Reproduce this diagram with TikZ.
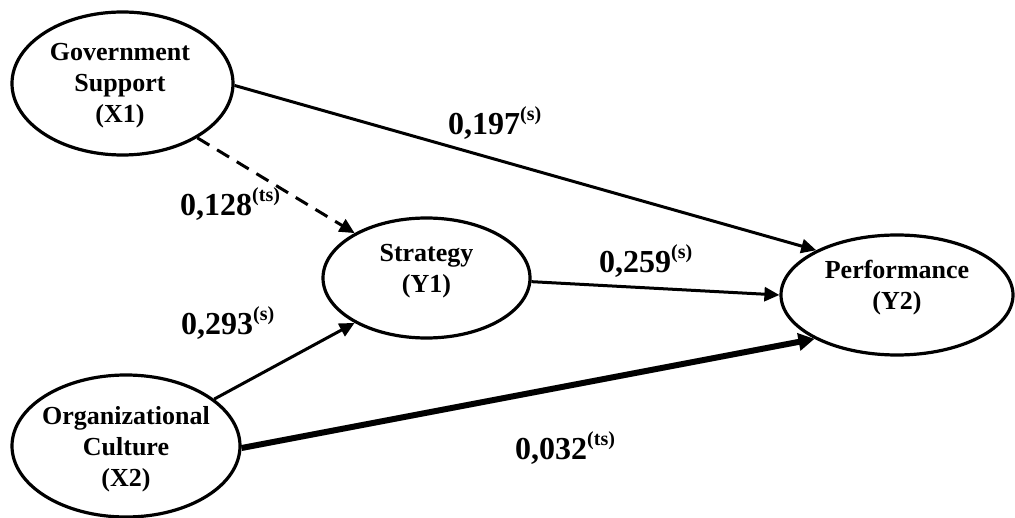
\documentclass[tikz,border=0pt]{standalone}
\usepackage{fontspec}
\setmainfont{Liberation Serif}
\usetikzlibrary{shapes.geometric,arrows.meta}
\tikzset{
  latent/.style={draw, ellipse, line width=3.2pt, inner sep=0pt},
  nametxt/.style={align=center, font=\fontsize{26}{31}\selectfont\bfseries, inner sep=0pt},
  coef/.style={anchor=base west, inner sep=0pt, font=\fontsize{32}{38}\selectfont\bfseries},
  arr/.style={line width=3pt, -{Triangle[length=15pt,width=14pt]}},
  thickarr/.style={line width=6pt, -{Triangle[length=16pt,width=17pt]}},
  dsh/.style={dash pattern=on 14pt off 9pt}
}
\newcommand{\supl}[1]{\raisebox{14pt}{\fontsize{20}{24}\selectfont #1}}
\begin{document}
\begin{tikzpicture}[x=1pt,y=-1pt]
\useasboundingbox (0,0) rectangle (1015,518);
% latent variables
\node[latent, minimum width=221pt, minimum height=143pt] (x1) at (122.5,83.5) {};
\node[latent, minimum width=228pt, minimum height=142pt] (x2) at (126,446) {};
\node[latent, minimum width=207pt, minimum height=120pt] (y1) at (426.5,278) {};
\node[latent, minimum width=232pt, minimum height=120pt] (y2) at (897,295) {};
% names
\node[nametxt] (x1t) at (120,86) {Government\\Support\\(X1)};
\node[nametxt] (x2t) at (126,449) {Organizational\\Culture\\(X2)};
\node[nametxt] (y1t) at (426.5,271) {Strategy\\(Y1)};
\node[nametxt] (y2t) at (897,288) {Performance\\(Y2)};
% paths
\draw[arr] (x1.-1) -- (y2.151);
\draw[arr,dsh] (x1.-36) -- (y1.148);
\draw[arr] (y1.-2) -- (y2.180);
\draw[arr] (x2.28) -- (y1.212);
\draw[thickarr] (x2.-1) -- (y2.208);
% coefficients
\node[coef] (c1) at (448,135) {0,197\supl{(s)}};
\node[coef] (c2) at (180,216) {0,128\supl{(ts)}};
\node[coef] (c3) at (181,335) {0,293\supl{(s)}};
\node[coef] (c4) at (599,273) {0,259\supl{(s)}};
\node[coef] (c5) at (515,460) {0,032\supl{(ts)}};
\end{tikzpicture}
\end{document}
